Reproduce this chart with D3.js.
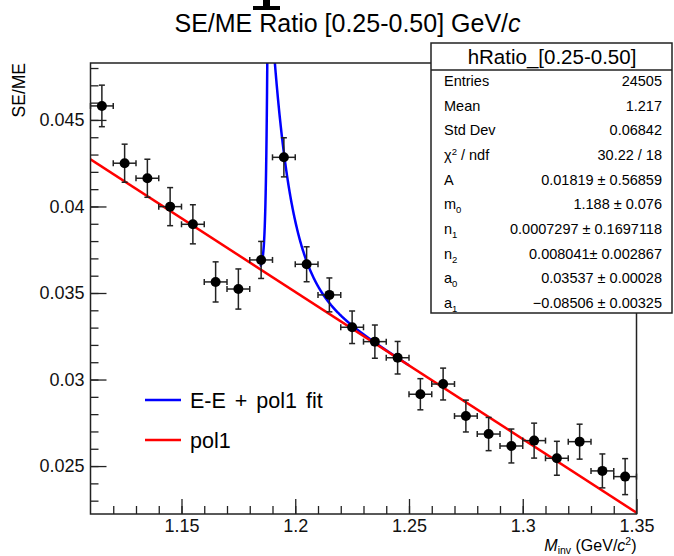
<!DOCTYPE html>
<html>
<head>
<meta charset="utf-8">
<script src="https://cdn.jsdelivr.net/npm/d3@7"></script>
<style>
  body { margin: 0; background: #fff; }
  svg { display: block; font-family: "Liberation Sans", Arial, sans-serif; }
</style>
</head>
<body>
<svg width="674" height="556"></svg>
<script>
(function () {
    'use strict';

    // bin centres of the histogram
    const binCenters = [1.115, 1.125, 1.135, 1.145, 1.155, 1.165, 1.175, 1.185,
        1.195, 1.205, 1.215, 1.225, 1.235, 1.245, 1.255, 1.265,
        1.275, 1.285, 1.295, 1.305, 1.315, 1.325, 1.335, 1.345];
    const binHalfWidth = 0.005;

    // SE/ME ratio and its error per bin
    const ratio = [0.04581, 0.04250, 0.04163, 0.03999, 0.03897, 0.03564, 0.03523, 0.03691,
        0.04284, 0.03666, 0.03489, 0.03302, 0.03219, 0.03126, 0.02915, 0.02974,
        0.02789, 0.02685, 0.02616, 0.02647, 0.02545, 0.02641, 0.02472, 0.02439];
    const ratioErr = [0.00120, 0.00110, 0.00110, 0.00110, 0.00113, 0.00116, 0.00116, 0.00107,
        0.00113, 0.00101, 0.00098, 0.00094, 0.00096, 0.00094, 0.00090, 0.00092,
        0.00092, 0.00096, 0.00098, 0.00101, 0.00098, 0.00101, 0.00098, 0.00104];

    // fit parameters (stats box)
    const fitA = 0.01819, fitM0 = 1.188, fitN1 = 0.0007297, fitN2 = 0.008041;
    const fitA0 = 0.03537, fitA1 = -0.08506, polX0 = 1.1964;
    const fitRange = [1.1845, 1.25];
    const polRange = [1.11, 1.35];

    const xTicks = [1.15, 1.2, 1.25, 1.3, 1.35];
    const yTicks = [0.025, 0.03, 0.035, 0.04, 0.045];

    const statLabels = ['Entries', 'Mean', 'Std Dev', 'chi2', 'A', 'm|0', 'n|1', 'n|2', 'a|0', 'a|1'];
    const statValues = ['24505', '1.217', '0.06842', '30.22 / 18', '0.01819 \u00b1 0.56859',
        '1.188 \u00b1 0.076', '0.0007297 \u00b1 0.1697118', '0.008041\u00b1 0.002867',
        '0.03537 \u00b1 0.00028', '\u22120.08506 \u00b1 0.00325'];

    const legendLabels = ['E-E + pol1 fit', 'pol1'];
    const legendColors = ['#0000ff', '#ff0000'];

    const frame = { left: 90.5, right: 636.5, top: 63, bottom: 514 };

    const x = d3.scaleLinear().domain([1.11, 1.35]).range([frame.left, frame.right]);
    const y = d3.scaleLinear().domain([0.02223, 0.04829]).range([frame.bottom, frame.top]);

    const svg = d3.select('svg');

    // stray glyph fragment at the very top
    svg.append('path')
        .attr('d', 'M263,0 H270 V6 H280 V10 H253 V6 H263 Z')
        .attr('fill', '#000');

    // title
    const title = svg.append('text')
        .attr('x', 347.5).attr('y', 32)
        .attr('text-anchor', 'middle')
        .attr('font-size', 25);
    title.append('tspan').text('SE/ME Ratio [0.25-0.50] GeV/');
    title.append('tspan').attr('font-style', 'italic').text('c');

    svg.append('defs').append('clipPath').attr('id', 'clip')
        .append('rect')
        .attr('x', frame.left).attr('y', frame.top)
        .attr('width', frame.right - frame.left).attr('height', frame.bottom - frame.top);

    // axes: ticks pointing inward
    const yAxis = g => g
        .attr('transform', `translate(${frame.left},0)`)
        .call(d3.axisLeft(y).tickValues(yTicks).tickSize(-16).tickPadding(6)
            .tickFormat(d => String(+d.toFixed(3))))
        .call(g => g.select('.domain').remove());
    const yMinor = g => g
        .attr('transform', `translate(${frame.left},0)`)
        .call(d3.axisLeft(y).tickValues(d3.range(23, 49).map(v => v / 1000)).tickSize(-8).tickFormat(''))
        .call(g => g.select('.domain').remove());
    const xAxis = g => g
        .attr('transform', `translate(0,${frame.bottom})`)
        .call(d3.axisBottom(x).tickValues(xTicks).tickSize(-15).tickPadding(5)
            .tickFormat(d => String(+d.toFixed(2))))
        .call(g => g.select('.domain').remove());
    const xMinor = g => g
        .attr('transform', `translate(0,${frame.bottom})`)
        .call(d3.axisBottom(x).tickValues(d3.range(112, 135).map(v => v / 100)).tickSize(-8).tickFormat(''))
        .call(g => g.select('.domain').remove());

    const axes = svg.append('g').classed('axes', true);
    axes.append('g').call(yMinor);
    axes.append('g').call(yAxis);
    axes.append('g').call(xMinor);
    axes.append('g').call(xAxis);
    axes.selectAll('line').attr('stroke', '#222').attr('stroke-width', 1.3);
    axes.selectAll('text').attr('font-size', 18).attr('fill', '#111')
        .attr('font-family', '"Liberation Sans", Arial, sans-serif');

    // axis titles
    svg.append('text')
        .attr('transform', `translate(25,${frame.top}) rotate(-90)`)
        .attr('text-anchor', 'end')
        .attr('font-size', 17.5)
        .text('SE/ME');

    const xt = svg.append('text')
        .attr('x', frame.right).attr('y', 550.5)
        .attr('text-anchor', 'end')
        .attr('font-size', 16);
    xt.append('tspan').attr('font-style', 'italic').text('M');
    xt.append('tspan').attr('font-size', 10.5).attr('dy', 3).text('inv');
    xt.append('tspan').attr('dy', -3).text(' (GeV/');
    xt.append('tspan').attr('font-style', 'italic').text('c');
    xt.append('tspan').attr('font-size', 10.5).attr('dy', -6).text('2');
    xt.append('tspan').attr('dy', 6).text(')');

    // fit curves
    const plots = svg.append('g').attr('clip-path', 'url(#clip)');

    const eePol = t => fitA0 + fitA1 * (t - polX0) +
        (t < fitM0 ? fitA * Math.exp((t - fitM0) / fitN1) : fitA * Math.exp(-(t - fitM0) / fitN2));
    const pol = t => fitA0 + fitA1 * (t - polX0);

    const fitXs = d3.range(fitRange[0], fitRange[1], 0.0001).concat([fitRange[1]]);
    const line = d3.line();

    plots.append('path')
        .attr('d', line(fitXs.map(t => [x(t), y(eePol(t))])))
        .attr('fill', 'none').attr('stroke', legendColors[0]).attr('stroke-width', 2.5);

    plots.append('path')
        .attr('d', line(polRange.map(t => [x(t), y(pol(t))])))
        .attr('fill', 'none').attr('stroke', legendColors[1]).attr('stroke-width', 2.5);

    // data points with error bars
    const pts = svg.append('g').selectAll('g')
        .data(binCenters.map((c, i) => ({ c, v: ratio[i], e: ratioErr[i] })))
        .join('g')
        .attr('stroke', '#222').attr('stroke-width', 1.5);

    pts.append('line')
        .attr('x1', d => x(d.c - binHalfWidth)).attr('x2', d => x(d.c + binHalfWidth))
        .attr('y1', d => y(d.v)).attr('y2', d => y(d.v));
    pts.append('line')
        .attr('x1', d => x(d.c)).attr('x2', d => x(d.c))
        .attr('y1', d => y(d.v - d.e)).attr('y2', d => y(d.v + d.e));
    // end caps
    [-1, 1].forEach(s => {
        pts.append('line')
            .attr('x1', d => x(d.c + s * binHalfWidth)).attr('x2', d => x(d.c + s * binHalfWidth))
            .attr('y1', d => y(d.v) - 3).attr('y2', d => y(d.v) + 3);
        pts.append('line')
            .attr('x1', d => x(d.c) - 3).attr('x2', d => x(d.c) + 3)
            .attr('y1', d => y(d.v + s * d.e)).attr('y2', d => y(d.v + s * d.e));
    });
    pts.append('circle')
        .attr('cx', d => x(d.c)).attr('cy', d => y(d.v)).attr('r', 5)
        .attr('fill', '#000').attr('stroke', 'none');

    // frame
    svg.append('rect')
        .attr('x', frame.left).attr('y', frame.top)
        .attr('width', frame.right - frame.left).attr('height', frame.bottom - frame.top)
        .attr('fill', 'none').attr('stroke', '#222').attr('stroke-width', 1.5);

    // legend
    const legend = svg.append('g').selectAll('g')
        .data(legendLabels)
        .join('g')
        .attr('transform', (d, i) => `translate(145,${400 + i * 40})`);
    legend.append('line')
        .attr('x1', 0).attr('x2', 36)
        .attr('stroke', (d, i) => legendColors[i]).attr('stroke-width', 2.5);
    legend.append('text')
        .attr('x', 45).attr('dy', 7.5)
        .attr('font-size', 21.5)
        .attr('word-spacing', 3)
        .text(d => d);

    // stats box
    const box = svg.append('g');
    box.append('rect')
        .attr('x', 431).attr('y', 43).attr('width', 241).attr('height', 270)
        .attr('fill', '#fff').attr('stroke', '#222').attr('stroke-width', 1.5);
    box.append('line')
        .attr('x1', 431).attr('x2', 672).attr('y1', 70).attr('y2', 70)
        .attr('stroke', '#222').attr('stroke-width', 1.5);
    box.append('text')
        .attr('x', 552).attr('y', 64).attr('text-anchor', 'middle')
        .attr('font-size', 20.5)
        .text('hRatio_[0.25-0.50]');

    const rowY = i => 81 + i * 24.67;
    statLabels.forEach((lab, i) => {
        const t = box.append('text')
            .attr('x', 444).attr('y', rowY(i) + 5)
            .attr('font-size', 14.5);
        if (lab === 'chi2') {
            t.append('tspan').text('\u03c7');
            t.append('tspan').attr('font-size', 9.5).attr('dy', -5).text('2');
            t.append('tspan').attr('dy', 5).text(' / ndf');
        } else if (lab.includes('|')) {
            const [a, b] = lab.split('|');
            t.append('tspan').text(a);
            t.append('tspan').attr('font-size', 9.5).attr('dy', 4).text(b);
        } else {
            t.text(lab);
        }
        box.append('text')
            .attr('x', 662).attr('y', rowY(i) + 5)
            .attr('text-anchor', 'end')
            .attr('font-size', 14.5)
            .text(statValues[i]);
    });
})();
</script>
</body>
</html>
